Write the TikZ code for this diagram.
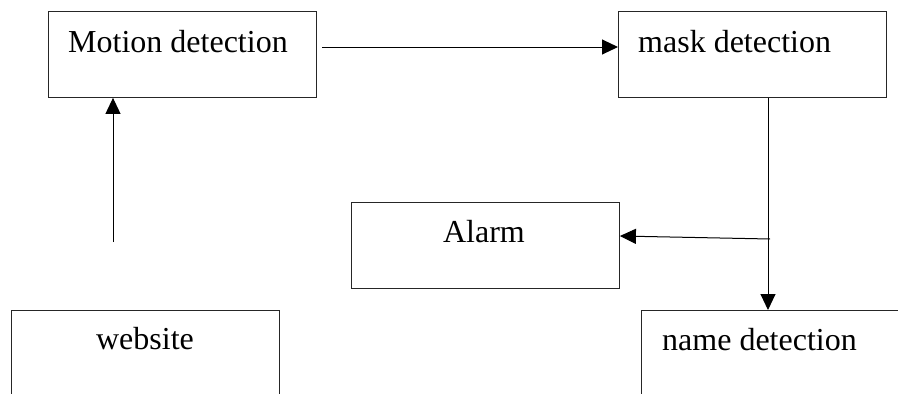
\documentclass[tikz,border=0pt]{standalone}
\usepackage{fontspec}
\setmainfont{Liberation Serif}
\usetikzlibrary{arrows.meta}
\begin{document}
\begin{tikzpicture}[x=1pt,y=-1pt,
  box/.style={draw=black!85,line width=0.9pt,rectangle,inner sep=0pt,
    minimum width=268pt,minimum height=86pt,anchor=north west},
  lbl/.style={inner sep=0pt,font=\fontsize{32}{38}\selectfont},
  flow/.style={line width=1pt,-{Triangle[length=16pt,width=15pt]}}]
\useasboundingbox (0,0) rectangle (898,394);
\clip (0,0) rectangle (898,394);
% boxes
\node[box] (motion) at (48,11) {};
\node[box] (mask) at (618,11) {};
\node[box] (alarm) at (351,202) {};
\node[box] (website) at (11,310) {};
\node[box] (name) at (641,310) {};
% labels
\node[lbl,anchor=base west] (tmotion) at (68,52) {Motion detection};
\node[lbl,anchor=base west] (tmask) at (638,52) {mask detection};
\node[lbl,anchor=base] (talarm) at (484,242) {Alarm};
\node[lbl,anchor=base] (twebsite) at (145,349) {website};
\node[lbl,anchor=base west] (tname) at (662,350) {name detection};
% connector end points
\coordinate (upfoot) at (113,242);
\coordinate (rightfoot) at (322,47);
\coordinate (downx) at (768,0);
\coordinate (tap) at (770,239);
\coordinate (alarmin) at (618,236);
% connectors
\draw[flow] (upfoot) -- (motion.south -| upfoot);
\draw[flow] (rightfoot) -- (mask.west |- rightfoot);
\draw[flow] (mask.south -| downx) -- (name.north -| downx);
\draw[flow] (tap) -- (alarm.east |- alarmin);
\end{tikzpicture}
\end{document}
